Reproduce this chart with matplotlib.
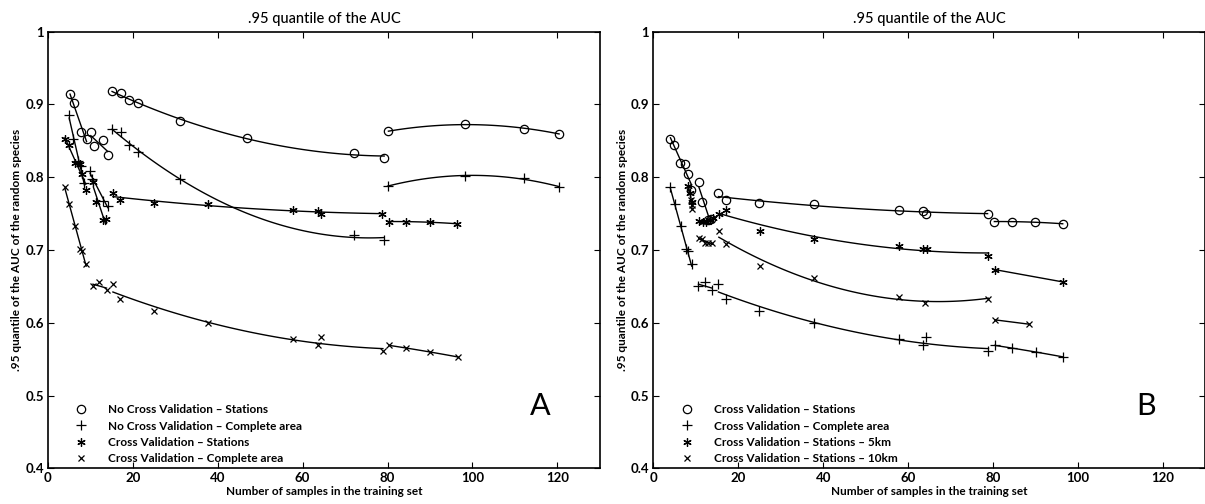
import numpy as np
import matplotlib
matplotlib.use('Agg')
import matplotlib.pyplot as plt
from matplotlib.ticker import FormatStrFormatter

plt.rcParams['font.family'] = ['Lato', 'DejaVu Sans']

# panel A - no cross validation
ncv_st_x = [5.2, 6.1, 7.9, 9.1, 10.1, 10.9, 13.0, 14.1,
            15.1, 17.1, 19.1, 21.1, 31.1, 47.0, 72.2, 79.2,
            80.2, 98.2, 112.2, 120.4]
ncv_st_y = [.914, .902, .862, .853, .862, .843, .851, .830,
            .918, .915, .906, .902, .877, .854, .833, .827,
            .863, .873, .866, .860]
ncv_ca_x = [5.0, 6.0, 7.0, 7.7, 8.6, 9.9, 10.4, 13.0, 14.1,
            15.1, 17.1, 19.1, 21.1, 31.1, 72.2, 79.2,
            80.0, 98.2, 112.2, 120.4]
ncv_ca_y = [.886, .853, .822, .815, .792, .809, .797, .767, .761,
            .866, .862, .844, .834, .797, .721, .714,
            .788, .801, .799, .786]

# cross validation (shared by both panels)
cv_st_x = [4.0, 4.9, 6.3, 7.5, 8.1, 8.9, 10.7, 11.4, 12.9, 13.6,
           15.3, 17.0, 24.9, 37.8, 57.8, 63.5, 64.3, 78.7,
           80.3, 84.4, 89.9, 96.4]
cv_st_y = [.852, .844, .819, .818, .805, .782, .794, .766, .741, .742,
           .778, .769, .764, .763, .755, .754, .749, .750,
           .739, .739, .738, .736]
cv_ca_x = [4.0, 5.0, 6.4, 7.6, 8.1, 9.0, 10.6, 12.1, 13.8,
           15.3, 17.0, 24.9, 37.8, 57.8, 63.5, 64.2, 78.9,
           80.4, 84.4, 90.0, 96.5]
cv_ca_y = [.786, .763, .733, .701, .699, .681, .650, .656, .645,
           .653, .632, .616, .600, .577, .569, .580, .561,
           .569, .565, .560, .553]

# panel B - buffered stations
cv_5km_x = [8.2, 8.6, 9.0, 10.8, 11.6, 12.4, 13.3, 14.1,
            15.5, 17.1, 25.1, 37.9, 57.9, 63.6, 64.4, 78.9,
            80.4, 96.5]
cv_5km_y = [.788, .778, .766, .740, .739, .738, .741, .744,
            .750, .755, .726, .715, .706, .701, .701, .692,
            .673, .656]
cv_10km_x = [8.8, 9.0, 9.1, 10.7, 11.4, 12.1, 12.9, 13.9,
             15.4, 17.1, 25.1, 37.9, 57.9, 64.0, 78.9,
             80.4, 88.5]
cv_10km_y = [.769, .762, .756, .717, .715, .709, .709, .710,
             .726, .708, .678, .661, .636, .627, .633,
             .604, .598]

edges = [9.5, 14.6, 79.6]  # sample-size groups, fitted separately

asterisk = (6, 2, 0)


def draw(ax, x, y, marker, ms, label):
    x = np.array(x)
    y = np.array(y)
    seg = np.digitize(x, edges)
    for s in np.unique(seg):
        xs, ys = x[seg == s], y[seg == s]
        deg = 2 if (len(xs) >= 4 and s >= 2) else 1
        p = np.polyfit(xs, ys, deg)
        xx = np.linspace(xs.min(), xs.max(), 100)
        ax.plot(xx, np.polyval(p, xx), 'k-', lw=1)
    ax.plot(x, y, ls='none', marker=marker, ms=ms, mfc='none', mec='k',
            mew=0.9, label=label)


fig = plt.figure(figsize=(12.05, 5.04), dpi=100)
ax1 = fig.add_axes([0.0398, 0.0708, 0.458, 0.8665])
ax2 = fig.add_axes([0.5423, 0.0708, 0.458, 0.8665])

draw(ax1, ncv_st_x, ncv_st_y, 'o', 6, 'No Cross Validation \u2013 Stations')
draw(ax1, ncv_ca_x, ncv_ca_y, '+', 7, 'No Cross Validation \u2013 Complete area')
draw(ax1, cv_st_x, cv_st_y, asterisk, 6, 'Cross Validation \u2013 Stations')
draw(ax1, cv_ca_x, cv_ca_y, 'x', 5, 'Cross Validation \u2013 Complete area')

draw(ax2, cv_st_x, cv_st_y, 'o', 6, 'Cross Validation \u2013 Stations')
draw(ax2, cv_ca_x, cv_ca_y, '+', 7, 'Cross Validation \u2013 Complete area')
draw(ax2, cv_5km_x, cv_5km_y, asterisk, 6, 'Cross Validation \u2013 Stations \u2013 5km')
draw(ax2, cv_10km_x, cv_10km_y, 'x', 5, 'Cross Validation \u2013 Stations \u2013 10km')

for ax, letter in [(ax1, 'A'), (ax2, 'B')]:
    ax.set_xlim(0, 130)
    ax.set_ylim(0.4, 1)
    ax.set_xticks(range(0, 121, 20))
    ax.set_yticks(np.arange(0.4, 1.01, 0.1))
    ax.yaxis.set_major_formatter(FormatStrFormatter('%g'))
    ax.tick_params(direction='in', top=True, right=True, length=4,
                   labelsize=9.5, pad=3)
    for lab in ax.get_xticklabels() + ax.get_yticklabels():
        lab.set_fontweight('bold')
    for sp in ax.spines.values():
        sp.set_linewidth(1.2)
    ax.set_title('.95 quantile of the AUC', fontsize=10.5, pad=6,
                 fontweight='medium')
    ax.set_xlabel('Number of samples in the training set', fontsize=8.5,
                  fontweight='bold', labelpad=1)
    ax.set_ylabel('.95 quantile of the AUC of the random species',
                  fontsize=8.5, fontweight='bold', labelpad=2)
    ax.text(116, 0.485, letter, fontsize=22, ha='center', va='center')
    ax.legend(loc='lower left', bbox_to_anchor=(0.03, -0.015),
              frameon=False, numpoints=1, handlelength=1.0,
              handletextpad=1.8, labelspacing=0.45,
              prop={'size': 8.5, 'weight': 'bold'})

plt.savefig('out.png', dpi=100)
